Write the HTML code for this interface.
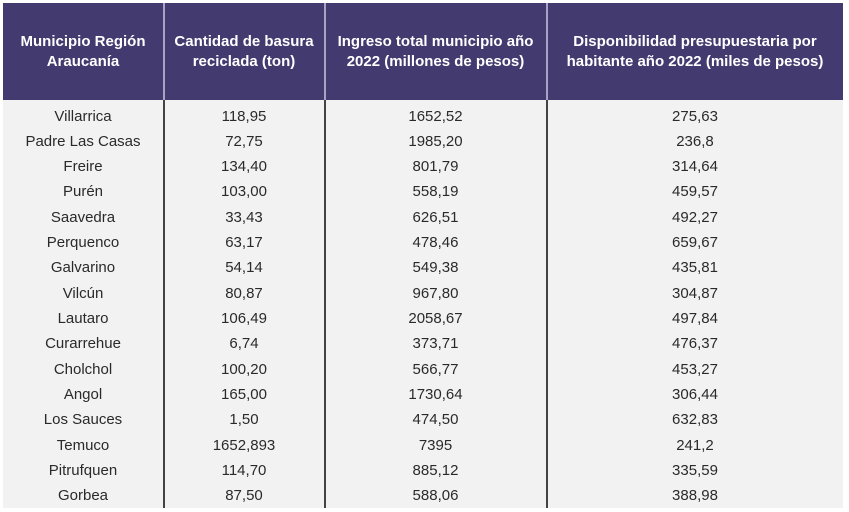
<!DOCTYPE html>
<html><head><style>
body{margin:0;width:849px;height:512px;background:#fff;font-family:"Liberation Sans",sans-serif;position:relative;overflow:hidden}
.hd{position:absolute;left:3px;top:3px;width:840px;height:97px;background:#433a6f}
.bd{position:absolute;left:3px;top:100px;width:840px;height:408px;background:#f2f2f2}
.vl{position:absolute;top:3px;height:505px;width:1.5px;background:#444}
.vh{position:absolute;top:3px;height:97px;width:1.5px;background:#a9a4c4}
.h{position:absolute;top:3px;height:97px;display:flex;align-items:center;justify-content:center;text-align:center;color:#fff;font-weight:bold;font-size:15px;line-height:20px}
.c{position:absolute;height:25px;line-height:25px;text-align:center;font-size:15px;color:#2a2a2a}
</style></head><body>
<div class="hd"></div><div class="bd"></div>
<div class="vl" style="left:163px;top:100px;height:408px"></div>
<div class="vl" style="left:324px;top:100px;height:408px"></div>
<div class="vl" style="left:546px;top:100px;height:408px"></div>
<div class="vh" style="left:163px"></div>
<div class="vh" style="left:324px"></div>
<div class="vh" style="left:546px"></div>
<div class="h" style="left:3px;width:160px">Municipio Región<br>Araucanía</div>
<div class="h" style="left:164px;width:160px">Cantidad de basura<br>reciclada (ton)</div>
<div class="h" style="left:325px;width:221px">Ingreso total municipio año<br>2022 (millones de pesos)</div>
<div class="h" style="left:547px;width:296px">Disponibilidad presupuestaria por<br>habitante año 2022 (miles de pesos)</div>
<div id="rows"></div>
<script>
var d=[["Villarrica","118,95","1652,52","275,63"],["Padre Las Casas","72,75","1985,20","236,8"],["Freire","134,40","801,79","314,64"],["Purén","103,00","558,19","459,57"],["Saavedra","33,43","626,51","492,27"],["Perquenco","63,17","478,46","659,67"],["Galvarino","54,14","549,38","435,81"],["Vilcún","80,87","967,80","304,87"],["Lautaro","106,49","2058,67","497,84"],["Curarrehue","6,74","373,71","476,37"],["Cholchol","100,20","566,77","453,27"],["Angol","165,00","1730,64","306,44"],["Los Sauces","1,50","474,50","632,83"],["Temuco","1652,893","7395","241,2"],["Pitrufquen","114,70","885,12","335,59"],["Gorbea","87,50","588,06","388,98"]];
var cols=[[3,160],[164,160],[325,221],[547,296]],h="";
d.forEach(function(r,i){var t=103.5+i*25.33;r.forEach(function(v,j){h+='<div class="c" style="top:'+t+'px;left:'+cols[j][0]+'px;width:'+cols[j][1]+'px">'+v+'</div>'})});
document.getElementById("rows").innerHTML=h;
</script>
</body></html>
